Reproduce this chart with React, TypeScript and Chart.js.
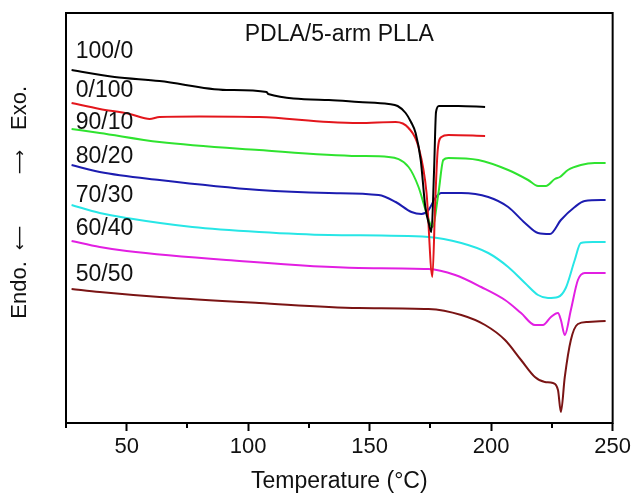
import React, { useEffect, useRef } from "react";
import { Chart, registerables } from "chart.js";

Chart.register(...registerables);

// ---- Data (temperature in °C, heat flow in arbitrary units, curves offset vertically) ----
const seriesNames = ["100/0", "0/100", "90/10", "80/20", "70/30", "60/40", "50/50"];
const seriesColors = ["#000000", "#e3161c", "#2fe32f", "#1c1cb0", "#27e6e6", "#e21fe2", "#7a1414"];

const t100_0 = [27.3, 45, 63.5, 91.0, 107.6, 108.2, 133.2, 145.5, 157.8, 161.5, 164.8, 167.0, 168.9, 171.0, 172.9, 174.5, 175.4, 176.5, 177.3, 178.5, 186.5, 197.5];
const h100_0 = [35.3, 34.6, 34.2, 33.3, 33.1, 32.9, 32.3, 32.1, 31.9, 31.7, 31.0, 30.1, 29.0, 26.3, 21.6, 19.8, 19.1, 25.3, 31.1, 31.7, 31.7, 31.6];

const t0_100 = [27.3, 38.9, 51.2, 57.0, 59.4, 63.5, 79.9, 104.5, 133.2, 145.5, 160.7, 166.0, 170.1, 173.4, 175.8, 177.0, 178.0, 179.5, 182.4, 197.5];
const h0_100 = [32.0, 31.4, 30.9, 30.5, 30.4, 30.6, 30.65, 30.6, 30.1, 30.0, 30.1, 29.5, 27.6, 23.0, 14.6, 22.3, 27.3, 28.6, 28.8, 28.7];

const t90_10 = [27.3, 38.9, 63.5, 104.5, 145.5, 157.8, 166.0, 170.1, 173.4, 175.8, 178.3, 180.3, 182.4, 194.7, 207.0, 215.2, 219.3, 222.5, 226.2, 228.3, 231.6, 236.9, 242.6, 247.1];
const h90_10 = [29.4, 29.0, 28.1, 27.3, 26.7, 26.6, 25.6, 23.6, 21.0, 19.6, 23.0, 26.3, 26.5, 26.3, 25.3, 24.3, 23.7, 23.7, 24.4, 24.6, 25.3, 25.8, 26.0, 26.0];

const t80_20 = [27.3, 38.9, 63.5, 104.5, 133.2, 153.7, 160.7, 167.2, 171.3, 174.2, 177.0, 179.5, 187.7, 198.8, 207.0, 213.9, 219.3, 224.2, 228.7, 234.4, 238.5, 247.1];
const h80_20 = [25.8, 25.1, 24.3, 23.3, 23.0, 22.8, 22.1, 21.1, 20.9, 21.3, 22.5, 23.0, 23.0, 22.6, 21.6, 20.0, 19.0, 18.9, 20.3, 21.6, 22.2, 22.3];

const t70_30 = [27.3, 38.9, 50.0, 77.0, 104.5, 133.2, 174.2, 187.7, 198.8, 207.0, 213.9, 219.3, 223.4, 227.5, 230.7, 234.4, 236.9, 241.8, 247.1];
const h70_30 = [21.8, 21.0, 20.5, 19.6, 19.1, 18.8, 18.6, 18.0, 17.0, 15.6, 14.0, 12.8, 12.5, 12.6, 13.5, 16.3, 18.0, 18.1, 18.1];

const t60_40 = [27.3, 38.9, 50.0, 91.0, 145.5, 174.2, 185.2, 195.9, 205.7, 212.3, 218.0, 221.3, 224.6, 227.5, 228.7, 230.3, 232.8, 235.7, 238.5, 247.1];
const h60_40 = [18.2, 17.6, 17.2, 16.3, 15.5, 15.4, 14.8, 13.6, 12.3, 11.0, 9.8, 9.8, 10.6, 11.0, 10.3, 8.8, 11.3, 14.3, 15.0, 15.0];

const t50_50 = [27.3, 38.9, 63.5, 104.5, 145.5, 174.2, 187.7, 197.5, 205.7, 212.3, 218.0, 222.1, 225.4, 227.5, 228.7, 230.3, 232.8, 235.7, 239.8, 247.1];
const h50_50 = [13.4, 13.1, 12.6, 12.0, 11.5, 11.4, 10.8, 9.8, 8.3, 6.3, 4.6, 4.1, 4.0, 3.3, 1.1, 4.6, 8.3, 9.9, 10.1, 10.2];

const seriesT = [t100_0, t0_100, t90_10, t80_20, t70_30, t60_40, t50_50];
const seriesH = [h100_0, h0_100, h90_10, h80_20, h70_30, h60_40, h50_50];

const xMin = 25;
const xMax = 250;
const xStep = 25;
const yMin = 0;
const yMax = 41;

const chartTitle = "PDLA/5-arm PLLA";
const xTitle = "Temperature (°C)";
// y title pieces: [text, offset from label centre (px, along the axis, positive = up), font]
const yTitleParts: [string, number, string][] = [
  ["Endo.", -84, "text"],
  ["⟵", -32, "arrow"],
  ["⟶", 44, "arrow"],
  ["Exo.", 98, "text"],
];

// label anchors (temperature, heat-flow units) for the curve names
const labelT = 29;
const labelH = [37.1, 33.2, 30.0, 26.6, 22.7, 19.4, 14.8];

const FONT = '"Liberation Sans", Arial, sans-serif';
const ARROW_FONT = '"DejaVu Sans", sans-serif';

export default function App() {
  const canvasRef = useRef<HTMLCanvasElement | null>(null);

  useEffect(() => {
    document.body.style.margin = "0";
    const canvas = canvasRef.current;
    if (!canvas) return;

    const datasets = seriesNames.map((name, i) => ({
      label: name,
      data: seriesT[i].map((t, j) => ({ x: t, y: seriesH[i][j] })),
      borderColor: seriesColors[i],
      backgroundColor: seriesColors[i],
      borderWidth: 2,
      pointRadius: 0,
      fill: false,
      cubicInterpolationMode: "monotone" as const,
    }));

    const decorations = {
      id: "decorations",
      afterDraw(chart: any) {
        const ctx = chart.ctx as CanvasRenderingContext2D;
        const { left, right, top, bottom } = chart.chartArea;
        const xs = chart.scales.x;
        const ys = chart.scales.y;
        ctx.save();
        // frame
        ctx.strokeStyle = "#000";
        ctx.lineWidth = 2;
        ctx.strokeRect(left, top, right - left, bottom - top);
        // minor ticks
        for (const tk of xs.ticks) {
          if (tk.value % 50 !== 0) {
            const px = Math.round(xs.getPixelForValue(tk.value));
            ctx.beginPath();
            ctx.moveTo(px, bottom);
            ctx.lineTo(px, bottom + 5);
            ctx.stroke();
          }
        }
        // title inside plot
        ctx.fillStyle = "#111";
        ctx.font = `23px ${FONT}`;
        ctx.textAlign = "center";
        ctx.textBaseline = "middle";
        ctx.fillText(chartTitle, (left + right) / 2, top + 22);
        // curve labels
        ctx.textAlign = "left";
        seriesNames.forEach((name, i) => {
          ctx.fillText(name, xs.getPixelForValue(labelT), ys.getPixelForValue(labelH[i]));
        });
        // y title
        ctx.translate(20, 206);
        ctx.rotate(-Math.PI / 2);
        ctx.textAlign = "center";
        for (const [txt, off, kind] of yTitleParts) {
          ctx.font = kind === "arrow" ? `17px ${ARROW_FONT}` : `22px ${FONT}`;
          ctx.fillText(txt, off, kind === "arrow" ? 1 : 0);
        }
        ctx.restore();
      },
    };

    const chart = new Chart(canvas, {
      type: "line",
      data: { datasets },
      options: {
        animation: false,
        responsive: false,
        layout: { padding: { left: 0, top: 13, right: 19, bottom: 0 } },
        plugins: {
          legend: { display: false },
          tooltip: { enabled: false },
        },
        scales: {
          x: {
            type: "linear",
            min: xMin,
            max: xMax,
            border: { display: false },
            grid: {
              display: true,
              drawOnChartArea: false,
              drawTicks: true,
              tickLength: 8,
              tickWidth: 2,
              tickColor: (c: any) => (c.tick && c.tick.value % 50 === 0 ? "#000" : "rgba(0,0,0,0)"),
            },
            ticks: {
              stepSize: xStep,
              autoSkip: false,
              maxRotation: 0,
              padding: 3,
              color: "#111",
              font: { family: FONT, size: 22 },
              callback: (v: any) => (Number(v) % 50 === 0 ? String(v) : ""),
            },
            title: {
              display: true,
              text: xTitle,
              color: "#111",
              font: { family: FONT, size: 23 },
              padding: { top: 0, bottom: 3 },
            },
            afterFit: (scale: any) => {
              scale.height = 75;
            },
          },
          y: {
            type: "linear",
            min: yMin,
            max: yMax,
            border: { display: false },
            grid: { display: false },
            ticks: { display: false },
            afterFit: (scale: any) => {
              scale.width = 66;
            },
          },
        },
      },
      plugins: [decorations],
    });

    return () => {
      chart.destroy();
    };
  }, []);

  return (
    <div style={{ width: 634, height: 498, background: "#fff" }}>
      <canvas ref={canvasRef} width={634} height={498} />
    </div>
  );
}
